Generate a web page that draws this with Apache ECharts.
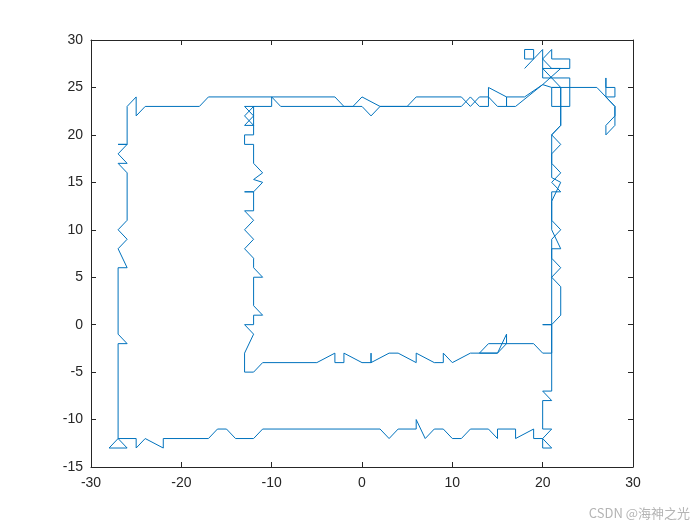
<!DOCTYPE html>
<html>
<head>
<meta charset="utf-8">
<script src="https://cdn.jsdelivr.net/npm/echarts@6/dist/echarts.min.js"></script>
<style>
html,body{margin:0;padding:0;background:#fff;}
#c{width:700px;height:525px;}
</style>
</head>
<body>
<div id="c"></div>
<script>
// Axis ticks
const xTicks = [-30, -20, -10, 0, 10, 20, 30];
const yTicks = [-15, -10, -5, 0, 5, 10, 15, 20, 25, 30];

// Path segments (x, y) in travel order
const clusterStart = [[18,27],[19,28],[18,28],[18,29],[19,29],[19,28],[20,29],[20,26],[23,26],[23,23],[21,23],[21,25],[22,25],[22,21]];
const rightDown = [[21,20],[22,19],[21,18],[21,17],[22,16],[21,15],[22,14],[21,14],[21,11],[22,10],[21,9],[21,7],[22,6],[21,5],[22,4],[22,1],[21,0],[20,0],[21,0],[21,-7],[20,-7],[21,-8],[20,-8],[20,-11],[21,-11],[20,-12],[21,-13],[20,-13],[20,-12]];
const outerBottom = [[19,-12],[19,-11],[17,-12],[17,-11],[15,-11],[15,-12],[14,-11],[12,-11],[11,-12],[10,-12],[9,-11],[8,-11],[7,-12],[6,-10],[6,-11],[4,-11],[3,-12],[2,-11],[-11,-11],[-12,-12],[-14,-12],[-15,-11],[-16,-11],[-17,-12],[-22,-12],[-22,-13],[-24,-12],[-25,-13],[-25,-12],[-27,-12],[-26,-13],[-28,-13],[-27,-12]];
const outerLeft = [[-27,-2],[-26,-2],[-27,-1],[-27,6],[-26,6],[-27,8],[-26,9],[-27,10],[-26,11],[-26,16],[-27,17],[-26,17],[-27,18],[-26,19],[-27,19],[-26,19],[-26,23]];
const outerTop = [[-25,24],[-25,22],[-24,23],[-18,23],[-17,24],[-3,24],[-2,23],[-1,23],[0,24],[2,23],[5,23],[6,24],[11,24],[12,23],[13,24],[14,24],[14,25]];
const clusterMid = [[16,24],[18,24],[20,25.3],[17,23],[16,23],[16,24],[16,23]];
const innerTop = [[15,23],[14,24],[14,23],[13,23],[12,24],[11,23],[2,23],[1,22],[0,23],[-9,23],[-10,24],[-10,23],[-13,23]];
const innerLeft = [[-12,22],[-12,23],[-13,22],[-12,21],[-13,21],[-12,22],[-12,20],[-13,20],[-13,19],[-12,19],[-12,17],[-11,16],[-12,15.3],[-11,15],[-12,14],[-13,14],[-12,14],[-12,12],[-13,12],[-12,11],[-13,10],[-12,9],[-13,8],[-12,7],[-12,6],[-11,5],[-12,5],[-12,2],[-11,1],[-12,1],[-12,0],[-13,0],[-12,-1],[-13,-3],[-13,-5],[-12,-5],[-11,-4]];
const innerBottom = [[-5,-4],[-3,-3],[-3,-4],[-2,-4],[-2,-3],[0,-4],[1,-4],[1,-3],[1,-4],[3,-3],[4,-3],[6,-4],[6,-3],[8,-4],[9,-4],[9,-3],[10,-4],[12,-3],[15,-3],[16,-1],[16,-2],[15,-3],[13,-3],[14,-2],[19,-2],[20,-3],[21,-3]];
const rightUp = [[21,8],[22,8],[21,10],[21,13],[22,15],[21,15.5],[21,20],[22,21]];
const clusterEnd = [[22,25],[20,27],[23,27],[23,28],[21,28],[21,29],[20,28],[21,27],[22,27],[20,25.3],[21,25],[26,25],[28,23],[28,22],[27,21],[27,20],[28,21],[28,22],[28,23],[27,24],[28,24],[28,25],[27,25],[27,26],[27,24]];

const path = [].concat(clusterStart, rightDown, outerBottom, outerLeft, outerTop, clusterMid, innerTop, innerLeft, innerBottom, rightUp, clusterEnd);

const chart = echarts.init(document.getElementById('c'), null, {renderer: 'canvas'});
const font = 'Liberation Sans, Arial, Helvetica, sans-serif';
const axisLine = {show: true, onZero: false, lineStyle: {color: '#262626', width: 1}};
const tick = {show: true, inside: true, length: 5, lineStyle: {color: '#262626', width: 1}};
chart.setOption({
  animation: false,
  backgroundColor: '#ffffff',
  grid: {left: 91, right: 67, top: 40, bottom: 58, containLabel: false},
  xAxis: [
    {type: 'value', position: 'bottom', min: -30, max: 30, interval: 10,
     axisLine: axisLine, axisTick: tick, splitLine: {show: false},
     axisLabel: {color: '#262626', fontSize: 14, fontFamily: font, margin: 9,
       formatter: v => xTicks.includes(v) ? String(v) : ''}},
    {type: 'value', position: 'top', min: -30, max: 30, interval: 10,
     axisLine: axisLine, axisTick: tick, splitLine: {show: false}, axisLabel: {show: false}}
  ],
  yAxis: [
    {type: 'value', position: 'left', min: -15, max: 30, interval: 5,
     axisLine: axisLine, axisTick: tick, splitLine: {show: false},
     axisLabel: {color: '#262626', fontSize: 14, fontFamily: font, margin: 8,
       formatter: v => yTicks.includes(v) ? String(v) : ''}},
    {type: 'value', position: 'right', min: -15, max: 30, interval: 5,
     axisLine: axisLine, axisTick: tick, splitLine: {show: false}, axisLabel: {show: false}}
  ],
  graphic: [{
    type: 'text', right: 10, bottom: 5,
    style: {text: 'CSDN @海神之光', fill: '#b4b4b4', fontSize: 13,
            fontFamily: 'Noto Sans CJK SC, sans-serif'}
  }],
  series: [{
    type: 'line', xAxisIndex: 0, yAxisIndex: 0,
    data: path, showSymbol: false, symbol: 'none',
    lineStyle: {color: '#0072BD', width: 1}, clip: false
  }]
});
</script>
</body>
</html>
